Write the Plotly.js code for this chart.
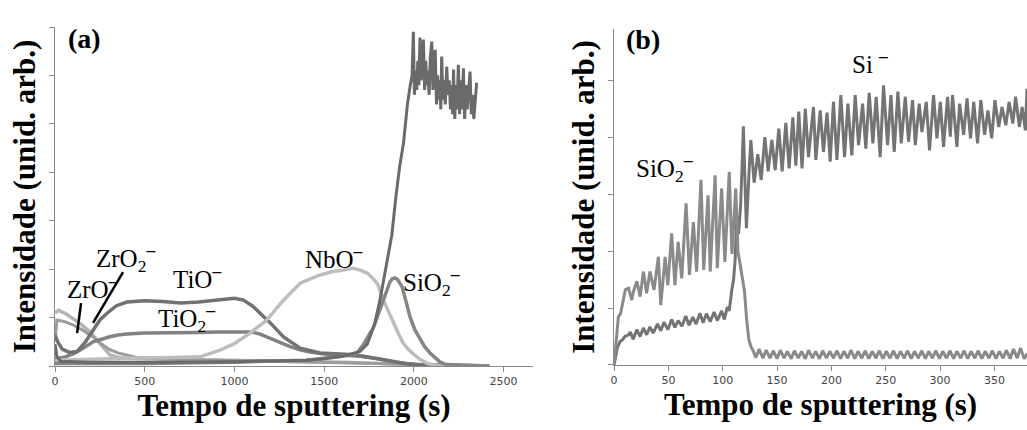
<!DOCTYPE html>
<html>
<head>
<meta charset="utf-8">
<script src="https://cdn.plot.ly/plotly-3.0.1.min.js"></script>
<style>html,body{margin:0;padding:0;background:#fff;}#chart{width:1027px;height:430px;}</style>
</head>
<body>
<div id="chart"></div>
<script>
// ---------- Panel (a) data: time (s) and intensity (arb. units) ----------
const tiO_t = [0, 15, 40, 80, 123, 170, 212, 250, 290, 340, 400, 500, 600, 700, 800, 900, 950, 1000, 1050, 1100, 1143, 1200, 1273, 1366, 1477, 1550, 1644, 1720, 1800, 1870, 1950, 2050, 2200, 2420];
const tiO_v = [0.64, 0.5, 0.35, 0.28, 0.3, 0.5, 0.74, 0.95, 1.09, 1.24, 1.32, 1.35, 1.33, 1.3, 1.32, 1.36, 1.39, 1.4, 1.36, 1.24, 1.09, 0.89, 0.6, 0.37, 0.27, 0.25, 0.24, 0.2, 0.15, 0.1, 0.05, 0.02, 0.01, 0.0];

const tiO2_t = [0, 50, 100, 150, 212, 250, 300, 350, 400, 500, 600, 700, 800, 900, 1000, 1050, 1100, 1143, 1180, 1216, 1260, 1310, 1360, 1421, 1500, 1600, 1700, 1800, 1900, 2000, 2100, 2420];
const tiO2_v = [0.15, 0.18, 0.25, 0.35, 0.5, 0.55, 0.6, 0.64, 0.66, 0.68, 0.68, 0.68, 0.69, 0.7, 0.7, 0.71, 0.7, 0.66, 0.6, 0.54, 0.47, 0.4, 0.34, 0.29, 0.25, 0.22, 0.2, 0.15, 0.08, 0.03, 0.01, 0.0];

const nbO_t = [0, 100, 200, 300, 400, 500, 600, 700, 808, 920, 994, 1087, 1180, 1273, 1366, 1477, 1550, 1606, 1660, 1700, 1740, 1775, 1800, 1830, 1860, 1885, 1915, 1941, 1970, 1997, 2030, 2070, 2110, 2150, 2420];
const nbO_v = [0.12, 0.13, 0.15, 0.16, 0.17, 0.17, 0.17, 0.18, 0.19, 0.33, 0.45, 0.68, 0.95, 1.36, 1.71, 1.88, 1.95, 1.98, 2.02, 1.98, 1.92, 1.8, 1.68, 1.36, 1.1, 0.89, 0.66, 0.47, 0.34, 0.25, 0.15, 0.06, 0.02, 0.0, 0.0];

const siO2a_t = [0, 500, 1000, 1400, 1600, 1680, 1720, 1775, 1800, 1830, 1850, 1867, 1880, 1895, 1910, 1934, 1955, 1978, 2005, 2035, 2060, 2090, 2120, 2146, 2180, 2420];
const siO2a_v = [0.05, 0.05, 0.08, 0.12, 0.2, 0.25, 0.45, 0.8, 1.05, 1.36, 1.58, 1.74, 1.8, 1.82, 1.78, 1.64, 1.35, 1.02, 0.75, 0.54, 0.4, 0.27, 0.16, 0.08, 0.03, 0.0];

const sia_t = [0, 10, 30, 200, 600, 1000, 1400, 1500, 1600, 1663, 1700, 1740, 1780, 1811, 1830, 1850, 1877, 1900, 1920, 1942, 1964, 1980,
  1990, 1997, 2003, 2010, 2016, 2022, 2028, 2034, 2040, 2046, 2053, 2060, 2066, 2072, 2078, 2085, 2092, 2100, 2106, 2112, 2119, 2126, 2132, 2138, 2144, 2150, 2155, 2162, 2168, 2175, 2183, 2190, 2197, 2204, 2210, 2216, 2221, 2228, 2234, 2240, 2248, 2255, 2262, 2269, 2276, 2283, 2290, 2297, 2304, 2313, 2320, 2327, 2334, 2341, 2350];
const sia_v = [0.45, 0.2, 0.1, 0.08, 0.08, 0.09, 0.12, 0.15, 0.2, 0.27, 0.3, 0.45, 0.85, 1.36, 1.75, 2.2, 2.7, 3.5, 4.1, 4.6, 5.4, 5.8,
  6.0, 6.9, 5.6, 6.1, 5.7, 6.3, 5.8, 6.78, 5.9, 6.2, 6.74, 5.7, 6.3, 5.8, 6.1, 5.6, 6.4, 6.7, 5.7, 6.2, 6.53, 5.4, 6.0, 5.5, 5.9, 5.3, 6.39, 5.5, 5.9, 5.4, 6.18, 5.6, 5.9, 5.3, 5.8, 5.2, 6.12, 5.1, 5.8, 5.3, 6.22, 5.2, 5.9, 5.3, 6.15, 5.1, 5.8, 5.3, 5.7, 6.08, 5.2, 5.6, 5.1, 5.5, 5.85];

const zrO_t = [0, 20, 60, 100, 150, 200, 250, 280, 306, 350, 400, 500, 700, 1000, 1300, 1600, 1900, 2200, 2420];
const zrO_v = [1.1, 1.15, 1.08, 0.98, 0.85, 0.68, 0.47, 0.33, 0.23, 0.18, 0.16, 0.15, 0.14, 0.12, 0.1, 0.08, 0.04, 0.01, 0.0];

const zrO2_t = [0, 10, 50, 100, 150, 212, 260, 300, 350, 400, 450, 600, 900, 1200, 1500, 1800, 2100, 2420];
const zrO2_v = [0.5, 0.95, 0.92, 0.85, 0.75, 0.6, 0.45, 0.35, 0.27, 0.22, 0.18, 0.14, 0.12, 0.1, 0.08, 0.05, 0.02, 0.0];

// ---------- Panel (b) data ----------
const siO2b_t = [0, 2, 4, 6, 8.8, 10.4, 13.4, 16.3, 18, 21, 24, 27, 30, 33, 36.8, 40.8, 43, 47, 49.5, 53, 56, 59, 62.3, 66.3, 69.4, 73, 76, 80, 82.5, 86.5, 88.5, 93, 95, 99, 102, 106, 108.5, 112, 114, 116, 118, 120, 122, 124, 126, 128,
  130.5, 133.5, 137, 140, 143.5, 146.5, 150, 153, 156.5, 159.5, 163, 166, 169.5, 172.5, 176, 179, 182.5, 185.5, 189, 192, 195.5, 198.5, 202, 205, 208.5, 211.5, 215, 218, 221.5, 224.5, 228, 231, 234.5, 237.5, 241, 244, 247.5, 250.5, 254, 257, 260.5, 263.5, 267, 270, 273.5, 276.5, 280, 283, 286.5, 289.5, 293, 296, 299.5, 302.5, 306, 309, 312.5, 315.5, 319, 322, 325.5, 328.5, 332, 335, 338.5, 341.5, 345, 348, 351.5, 354.5, 358, 361, 364.5, 367.5, 371, 374, 377.5, 380];
const siO2b_v = [0.0, 0.4, 0.85, 0.9, 1.14, 1.32, 1.35, 1.14, 1.3, 1.47, 1.2, 1.64, 1.26, 1.64, 1.32, 1.9, 1.05, 1.9, 1.4, 2.31, 1.4, 2.16, 1.52, 2.84, 1.58, 2.51, 1.64, 3.25, 1.67, 2.98, 1.64, 3.33, 1.7, 3.1, 1.81, 3.39, 1.95, 3.1, 2.0, 1.75, 1.5, 1.3, 0.8, 0.45, 0.32, 0.25,
  0.13, 0.28, 0.12, 0.26, 0.12, 0.25, 0.11, 0.26, 0.12, 0.24, 0.11, 0.25, 0.12, 0.24, 0.11, 0.26, 0.12, 0.24, 0.11, 0.25, 0.12, 0.24, 0.12, 0.25, 0.11, 0.24, 0.12, 0.26, 0.11, 0.24, 0.12, 0.25, 0.11, 0.24, 0.12, 0.25, 0.11, 0.24, 0.12, 0.25, 0.11, 0.24, 0.12, 0.25, 0.11, 0.24, 0.12, 0.25, 0.11, 0.24, 0.12, 0.25, 0.11, 0.24, 0.12, 0.25, 0.11, 0.24, 0.12, 0.25, 0.11, 0.24, 0.12, 0.25, 0.11, 0.24, 0.12, 0.25, 0.11, 0.24, 0.12, 0.26, 0.11, 0.28, 0.12, 0.3, 0.11, 0.2];

const sib_t = [0, 3, 5.5, 8, 10, 13.4, 15, 17.5, 21, 24, 27, 30, 33, 36, 40, 43, 46, 49.5, 53, 56, 59, 62.5, 66, 69, 72.5, 75.5, 79, 82, 85, 88.5, 92, 95, 99, 101.5, 104.3, 106, 108.4, 110, 111.4, 113, 114.5, 116.5, 118, 119, 120.5, 121.8, 124, 125.9, 128.9, 132.3, 135.4, 138.8, 141.8, 145.2, 148.3, 151.6, 154.7, 158.1, 161.1, 164.5, 167.3, 170, 173,
  176, 178.9, 183.5, 185.7, 189.7, 192.7, 196, 198.9, 201.9, 205.1, 208.7, 212.1, 215.2, 218.8, 221.9, 225, 228.7, 231.7, 234.8, 238.2, 241.2, 244.9, 248, 251.7, 254.8, 257.8, 261.2, 264.3, 268, 271, 274.7, 277.2, 280.8, 283.3, 287.3, 290.3, 294, 297.1, 300.2, 303.2, 306.9, 309.4, 311.5, 315.5, 318, 321.7, 324.8, 328, 331, 334.5, 337.5, 341, 344, 347.5, 350.5, 354, 357, 360.5, 363.5, 367, 369.5, 373, 375.5, 378.5, 380];
const sib_v = [0.0, 0.3, 0.41, 0.45, 0.5, 0.53, 0.58, 0.45, 0.62, 0.5, 0.65, 0.53, 0.67, 0.56, 0.72, 0.6, 0.75, 0.62, 0.8, 0.66, 0.78, 0.68, 0.86, 0.7, 0.84, 0.72, 0.91, 0.74, 0.9, 0.76, 0.93, 0.78, 0.95, 0.8, 1.02, 0.95, 1.32, 1.5, 1.84, 2.6, 2.3, 2.8, 3.6, 4.19, 3.2, 2.4, 3.3, 3.95, 3.2, 3.7, 3.25, 4.0, 3.4, 3.95, 3.42, 4.15, 3.4, 4.25, 3.45, 4.35, 3.5, 4.45, 3.45,
  4.5, 3.65, 4.53, 3.6, 4.47, 3.74, 4.43, 3.57, 4.62, 3.6, 4.74, 3.65, 4.59, 3.68, 4.74, 3.86, 4.59, 3.8, 4.78, 3.89, 4.71, 3.65, 4.91, 3.86, 4.74, 3.74, 4.8, 3.89, 4.71, 3.92, 4.65, 3.86, 4.59, 4.09, 4.62, 3.77, 4.74, 3.98, 4.62, 3.83, 4.71, 4.01, 4.74, 3.83, 4.59, 4.04, 4.68, 3.98, 4.62, 3.89, 4.65, 4.04, 4.47, 3.98, 4.65, 4.18, 4.53, 4.21, 4.62, 4.24, 4.71, 4.18, 4.53, 4.12, 4.85];

const serif = 'Liberation Serif, Times New Roman, serif';
const sans = 'DejaVu Sans, Verdana, sans-serif';

function tr(x, y, color, xa, ya, w) {
  return {x: x, y: y, type: 'scatter', mode: 'lines', xaxis: xa, yaxis: ya,
          line: {color: color, width: w, shape: 'linear'}, showlegend: false, hoverinfo: 'skip'};
}

const data = [
  tr(zrO_t, zrO_v, '#b4b4b4', 'x', 'y', 3.5),
  tr(zrO2_t, zrO2_v, '#9c9c9c', 'x', 'y', 3),
  tr(tiO2_t, tiO2_v, '#828282', 'x', 'y', 3.5),
  tr(tiO_t, tiO_v, '#727272', 'x', 'y', 3.5),
  tr(nbO_t, nbO_v, '#bdbdbd', 'x', 'y', 3.5),
  tr(siO2a_t, siO2a_v, '#858585', 'x', 'y', 3.5),
  tr(sia_t, sia_v, '#6a6a6a', 'x', 'y', 3),
  tr(sib_t, sib_v, '#747474', 'x2', 'y2', 3),
  tr(siO2b_t, siO2b_v, '#8a8a8a', 'x2', 'y2', 3)
];

const axCommon = {
  showgrid: false, zeroline: false, showline: true, linecolor: '#8a8a8a', linewidth: 1,
  ticks: 'outside', ticklen: 5, tickcolor: '#8a8a8a', tickwidth: 1
};

const titleFont = {family: serif, size: 31, color: '#000', weight: 'bold'};
const lab = {family: serif, size: 25, color: '#000'};
const M = '<sup><b>–</b></sup>';

function ann(text, x, y, xr, yr, font) {
  return {text: text, x: x, y: y, xref: xr, yref: yr, showarrow: false, font: font || lab,
          xanchor: 'center', yanchor: 'middle'};
}

const layout = {
  width: 1027, height: 430,
  margin: {l: 0, r: 0, t: 0, b: 0},
  paper_bgcolor: '#fff', plot_bgcolor: '#fff',
  xaxis: Object.assign({}, axCommon, {
    domain: [0.0536, 0.519], range: [0, 2664], tickvals: [0, 500, 1000, 1500, 2000, 2500],
    tickfont: {family: sans, size: 11, color: '#444'}, anchor: 'y',
    title: {text: '<b>Tempo de sputtering (s)</b>', font: titleFont, standoff: 4}
  }),
  yaxis: Object.assign({}, axCommon, {
    domain: [0.1488, 0.9372], range: [0, 7], dtick: 1, tick0: 0, showticklabels: false, anchor: 'x',
    title: {text: '<b>Intensidade (unid. arb.)</b>', font: titleFont, standoff: 4}
  }),
  xaxis2: Object.assign({}, axCommon, {
    domain: [0.5979, 1.0], range: [0, 380], tickvals: [0, 50, 100, 150, 200, 250, 300, 350],
    tickfont: {family: sans, size: 11, color: '#444'}, anchor: 'y2',
    title: {text: '<b>Tempo de sputtering (s)</b>', font: titleFont, standoff: 4}
  }),
  yaxis2: Object.assign({}, axCommon, {
    domain: [0.1512, 0.9326], range: [0, 5.9], dtick: 1, tick0: 0, showticklabels: false, anchor: 'x2',
    title: {text: '<b>Intensidade (unid. arb.)</b>', font: titleFont, standoff: 4}
  }),
  annotations: [
    ann('<b>(a)</b>', 162, 6.76, 'x', 'y', {family: serif, size: 28, color: '#000'}),
    ann('Si' + M, 2291, 7.05, 'x', 'y'),
    ann('NbO' + M, 1555, 2.25, 'x', 'y'),
    ann('SiO<sub>2</sub>' + M, 2101, 1.74, 'x', 'y'),
    ann('TiO' + M, 792, 1.84, 'x', 'y'),
    ann('TiO<sub>2</sub>' + M, 730, 0.99, 'x', 'y'),
    ann('ZrO<sub>2</sub>' + M, 390, 2.23, 'x', 'y'),
    ann('ZrO' + M, 206, 1.63, 'x', 'y'),
    ann('<b>(b)</b>', 26.7, 5.72, 'x2', 'y2', {family: serif, size: 28, color: '#000'}),
    ann('Si ' + M, 235.7, 5.32, 'x2', 'y2'),
    ann('SiO<sub>2</sub>' + M, 46, 3.46, 'x2', 'y2')
  ],
  shapes: [
    {type: 'line', xref: 'x', yref: 'y', x0: 145, y0: 1.30, x1: 123, y1: 0.68, line: {color: '#000', width: 2.5}},
    {type: 'line', xref: 'x', yref: 'y', x0: 379, y0: 1.94, x1: 212, y1: 0.89, line: {color: '#000', width: 2.5}}
  ]
};

Plotly.newPlot('chart', data, layout, {staticPlot: true, displayModeBar: false});
</script>
</body>
</html>
